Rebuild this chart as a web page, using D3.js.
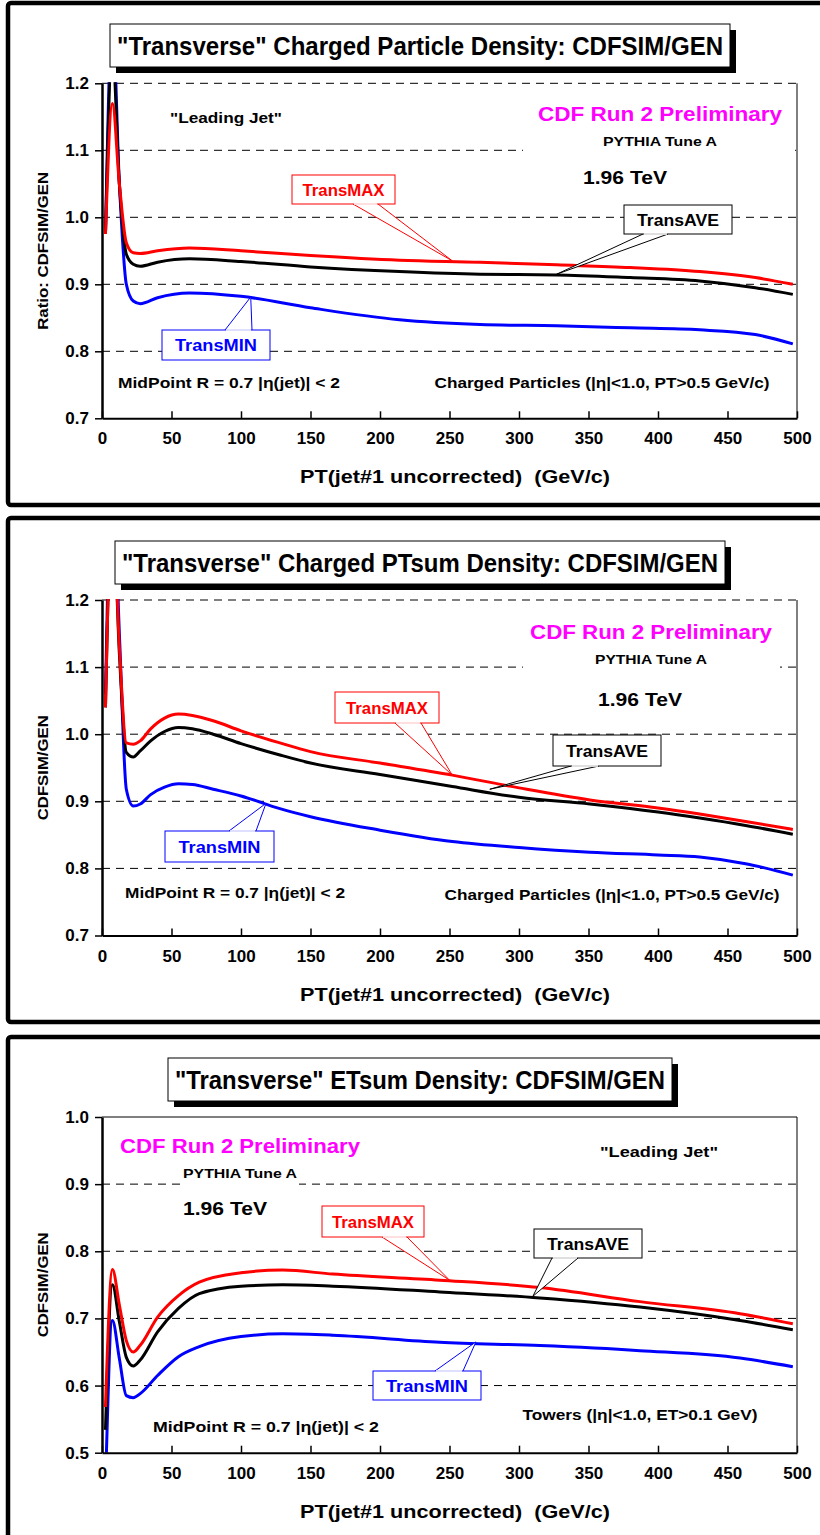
<!DOCTYPE html>
<html>
<head>
<meta charset="utf-8">
<script src="https://cdn.jsdelivr.net/npm/d3@7"></script>
<style>
  body { margin: 0; background: #fff; }
  svg { display: block; }
  text { font-family: "Liberation Sans", Arial, sans-serif; font-weight: bold; }
</style>
</head>
<body>
<div id="chart"></div>
<script>
// x tick labels shared by all three panels
const xTicks = [0, 50, 100, 150, 200, 250, 300, 350, 400, 450, 500];

// panel 1: charged particle density
const p1X   = [2.5, 7.5, 12.5, 17.5, 22.5, 27.5, 40, 63, 100, 150, 214, 272, 327, 380, 430, 470, 497];
const p1Max = [0.975, 1.17, 1.05, 0.962, 0.947, 0.946, 0.95, 0.954, 0.95, 0.943, 0.936, 0.933, 0.929, 0.925, 0.919, 0.91, 0.9];
const p1Ave = [0.975, 1.25, 1.05, 0.945, 0.93, 0.927, 0.933, 0.938, 0.934, 0.926, 0.919, 0.915, 0.914, 0.91, 0.905, 0.895, 0.885];
const p1Min = [0.975, 1.3, 1.05, 0.9, 0.875, 0.871, 0.88, 0.887, 0.882, 0.865, 0.847, 0.84, 0.838, 0.835, 0.832, 0.825, 0.811];
const p1YTicks = [0.7, 0.8, 0.9, 1.0, 1.1, 1.2];

// panel 2: charged PTsum density
const p2X   = [2.5, 7.5, 12.5, 17.5, 22.5, 27.5, 35, 45, 55, 65, 80, 100, 128, 150, 200, 252, 300, 351, 400, 430, 463, 497];
const p2Max = [1.04, 1.35, 1.13, 0.987, 0.985, 0.99, 1.008, 1.024, 1.03, 1.028, 1.02, 1.005, 0.987, 0.974, 0.957, 0.939, 0.92, 0.902, 0.89, 0.881, 0.87, 0.858];
const p2Ave = [1.04, 1.35, 1.12, 0.973, 0.966, 0.975, 0.99, 1.004, 1.01, 1.008, 1.0, 0.986, 0.969, 0.957, 0.94, 0.922, 0.906, 0.896, 0.884, 0.875, 0.864, 0.851];
const p2Min = [1.06, 1.4, 1.15, 0.918, 0.893, 0.896, 0.91, 0.921, 0.926, 0.925, 0.918, 0.908, 0.889, 0.877, 0.857, 0.84, 0.831, 0.824, 0.82, 0.817, 0.807, 0.79];
const p2YTicks = [0.7, 0.8, 0.9, 1.0, 1.1, 1.2];

// panel 3: ETsum density
const p3X   = [2.5, 7.5, 12.5, 17.5, 22.5, 27.5, 40, 55, 70, 100, 130, 166, 243, 315, 387, 459, 497];
const p3Max = [0.568, 0.773, 0.72, 0.667, 0.65, 0.66, 0.702, 0.734, 0.754, 0.768, 0.772, 0.766, 0.757, 0.746, 0.725, 0.707, 0.692];
const p3Ave = [0.534, 0.75, 0.695, 0.642, 0.629, 0.638, 0.68, 0.715, 0.737, 0.748, 0.75, 0.748, 0.7395, 0.7305, 0.717, 0.697, 0.683];
const p3Min = [0.45, 0.697, 0.64, 0.585, 0.582, 0.588, 0.615, 0.643, 0.658, 0.673, 0.677, 0.675, 0.6645, 0.6595, 0.652, 0.641, 0.628];
const p3YTicks = [0.5, 0.6, 0.7, 0.8, 0.9, 1.0];

const seriesNames = ["TransMAX", "TransAVE", "TransMIN"];
const seriesColors = ["#ff0000", "#000000", "#0000ff"];

const svg = d3.select("#chart").append("svg")
    .attr("width", 820)
    .attr("height", 1535);

const panels = [
  {
    frame: [8, 3, 830, 502], plotTop: 83.3, plotBottom: 418.3, topDashed: true,
    title: "\"Transverse\" Charged Particle Density: CDFSIM/GEN", titleBox: [110, 24, 620, 43],
    yLabel: "Ratio: CDFSIM/GEN", yLabelLen: 158, yTicks: p1YTicks,
    x: p1X, series: [p1Max, p1Ave, p1Min],
    whiteBox: [523, 140, 272, 20],
    callouts: [
      {box: [292, 175, 103, 29], base: [353, 378], tip: [252, 0.935]},
      {box: [624, 205, 108, 29], base: [643, 668], tip: [327, 0.915]},
      {box: [162, 330, 108, 30], base: [225, 252], tip: [107, 0.881]}
    ],
    texts: [
      {t: "\"Leading Jet\"", x: 226, y: 123, size: 15, w: 112, anchor: "middle"},
      {t: "CDF Run 2 Preliminary", x: 660, y: 121, size: 20, w: 244, anchor: "middle", color: "#ff00ff"},
      {t: "PYTHIA Tune A", x: 660, y: 146, size: 13, w: 114, anchor: "middle"},
      {t: "1.96 TeV", x: 625, y: 184, size: 18, w: 84, anchor: "middle"},
      {t: "MidPoint R = 0.7 |η(jet)| < 2", x: 229, y: 388, size: 15, w: 222, anchor: "middle"},
      {t: "Charged Particles (|η|<1.0, PT>0.5 GeV/c)", x: 602, y: 388, size: 15, w: 335, anchor: "middle"}
    ]
  },
  {
    frame: [8, 518, 830, 504], plotTop: 600, plotBottom: 935.5, topDashed: true,
    title: "\"Transverse\" Charged PTsum Density: CDFSIM/GEN", titleBox: [115, 541, 610, 43],
    yLabel: "CDFSIM/GEN", yLabelLen: 105, yTicks: p2YTicks,
    x: p2X, series: [p2Max, p2Ave, p2Min],
    whiteBox: [523, 657, 257, 20],
    callouts: [
      {box: [335, 692, 104, 31], base: [395, 421], tip: [252, 0.939]},
      {box: [553, 735, 108, 31], base: [571, 599], tip: [279, 0.918]},
      {box: [165, 831, 109, 31], base: [229, 256], tip: [118, 0.897]}
    ],
    texts: [
      {t: "CDF Run 2 Preliminary", x: 651, y: 639, size: 20, w: 242, anchor: "middle", color: "#ff00ff"},
      {t: "PYTHIA Tune A", x: 651, y: 664, size: 13, w: 112, anchor: "middle"},
      {t: "1.96 TeV", x: 640, y: 706, size: 18, w: 84, anchor: "middle"},
      {t: "MidPoint R = 0.7 |η(jet)| < 2", x: 235, y: 898, size: 15, w: 220, anchor: "middle"},
      {t: "Charged Particles (|η|<1.0, PT>0.5 GeV/c)", x: 612, y: 900, size: 15, w: 335, anchor: "middle"}
    ]
  },
  {
    frame: [8, 1037, 830, 520], plotTop: 1117, plotBottom: 1452.7, topDashed: false,
    title: "\"Transverse\" ETsum Density: CDFSIM/GEN", titleBox: [168, 1058, 504, 43],
    yLabel: "CDFSIM/GEN", yLabelLen: 105, yTicks: p3YTicks,
    x: p3X, series: [p3Max, p3Ave, p3Min],
    whiteBox: [181, 1178, 118, 12],
    callouts: [
      {box: [322, 1206, 102, 31], base: [382, 407], tip: [250, 0.757]},
      {box: [534, 1229, 108, 29], base: [552, 578], tip: [310, 0.733]},
      {box: [373, 1371, 108, 29], base: [435, 463], tip: [269, 0.665]}
    ],
    texts: [
      {t: "CDF Run 2 Preliminary", x: 240, y: 1153, size: 20, w: 240, anchor: "middle", color: "#ff00ff"},
      {t: "PYTHIA Tune A", x: 240, y: 1178, size: 13, w: 114, anchor: "middle"},
      {t: "1.96 TeV", x: 225, y: 1215, size: 18, w: 84, anchor: "middle"},
      {t: "\"Leading Jet\"", x: 659, y: 1157, size: 15, w: 118, anchor: "middle"},
      {t: "MidPoint R = 0.7 |η(jet)| < 2", x: 266, y: 1432, size: 15, w: 226, anchor: "middle"},
      {t: "Towers (|η|<1.0, ET>0.1 GeV)", x: 640, y: 1420, size: 15, w: 235, anchor: "middle"}
    ]
  }
];

const xLeft = 102, xRight = 797;

panels.forEach(function(p, i) {
  const g = svg.append("g");

  // outer frame
  g.append("rect")
    .attr("x", p.frame[0]).attr("y", p.frame[1])
    .attr("width", p.frame[2]).attr("height", p.frame[3])
    .attr("rx", 3)
    .attr("fill", "none").attr("stroke", "#000").attr("stroke-width", 4.5);

  const xScale = d3.scaleLinear().domain([0, 500]).range([xLeft, xRight]);
  const yScale = d3.scaleLinear()
    .domain([p.yTicks[0], p.yTicks[p.yTicks.length - 1]])
    .range([p.plotBottom, p.plotTop]);

  // grid lines
  g.selectAll(".grid")
    .data(p.yTicks.slice(1, p.topDashed ? p.yTicks.length : p.yTicks.length - 1))
    .enter()
    .append("line")
    .attr("x1", xLeft).attr("x2", xRight)
    .attr("y1", d => yScale(d)).attr("y2", d => yScale(d))
    .attr("stroke", "#000").attr("stroke-width", 1)
    .attr("stroke-dasharray", "8,6");

  // plot frame top (solid only in panel 3) and right side
  if (!p.topDashed) {
    g.append("line").attr("x1", xLeft).attr("x2", xRight)
      .attr("y1", p.plotTop).attr("y2", p.plotTop)
      .attr("stroke", "#000").attr("stroke-width", 1);
  }
  g.append("line").attr("x1", xRight).attr("x2", xRight)
    .attr("y1", p.plotTop).attr("y2", p.plotBottom)
    .attr("stroke", "#000").attr("stroke-width", 1);

  // white background behind the text block
  g.append("rect")
    .attr("x", p.whiteBox[0]).attr("y", p.whiteBox[1])
    .attr("width", p.whiteBox[2]).attr("height", p.whiteBox[3])
    .attr("fill", "#fff");

  // curves
  const clipId = "clip" + i;
  svg.append("clipPath").attr("id", clipId)
    .append("rect")
    .attr("x", xLeft).attr("y", p.plotTop - 1)
    .attr("width", xRight - xLeft).attr("height", p.plotBottom - p.plotTop + 1);

  const line = d3.line()
    .x(d => xScale(d[0]))
    .y(d => yScale(d[1]))
    .curve(d3.curveMonotoneX);

  p.series.slice().reverse().forEach(function(vals, k) {
    const idx = p.series.length - 1 - k;
    g.append("path")
      .datum(p.x.map((xv, j) => [xv, vals[j]]))
      .attr("clip-path", `url(#${clipId})`)
      .attr("d", line)
      .attr("fill", "none")
      .attr("stroke", seriesColors[idx])
      .attr("stroke-width", 3)
      .attr("stroke-linejoin", "round");
  });

  // axes
  const bottomAxis = d3.axisBottom(xScale).tickValues(xTicks).tickSizeInner(-7).tickSizeOuter(0).tickPadding(14);
  const leftAxis = d3.axisLeft(yScale).tickValues(p.yTicks).tickFormat(d3.format(".1f")).tickSizeInner(7).tickSizeOuter(0).tickPadding(6);

  const xAxis = g.append("g")
    .attr("transform", `translate(0, ${p.plotBottom})`)
    .call(bottomAxis);
  xAxis.select(".domain").attr("stroke-width", 2);
  xAxis.selectAll(".tick line").attr("stroke-width", 1.5);
  xAxis.selectAll("text").attr("font-size", "17px").attr("font-family", "Liberation Sans, Arial, sans-serif").attr("font-weight", "bold");

  const yAxis = g.append("g")
    .attr("transform", `translate(${xLeft}, 0)`)
    .call(leftAxis);
  yAxis.select(".domain").attr("stroke-width", 2.5);
  yAxis.selectAll(".tick line").attr("stroke-width", 1.5);
  yAxis.selectAll("text").attr("font-size", "17px").attr("font-family", "Liberation Sans, Arial, sans-serif").attr("font-weight", "bold");

  // axis titles
  g.append("text")
    .attr("x", 455).attr("y", p.plotBottom + 65)
    .attr("text-anchor", "middle").attr("font-size", "18px")
    .attr("textLength", 310).attr("lengthAdjust", "spacingAndGlyphs")
    .text("PT(jet#1 uncorrected)  (GeV/c)")
    .style("white-space", "pre");

  g.append("text")
    .attr("transform", "rotate(-90)")
    .attr("x", -(p.plotTop + p.plotBottom) / 2)
    .attr("y", 48)
    .attr("text-anchor", "middle").attr("font-size", "15px")
    .attr("textLength", p.yLabelLen).attr("lengthAdjust", "spacingAndGlyphs")
    .text(p.yLabel);

  // title with drop shadow
  const tb = p.titleBox;
  g.append("rect").attr("x", tb[0] + 6).attr("y", tb[1] + 6)
    .attr("width", tb[2]).attr("height", tb[3]).attr("fill", "#000");
  g.append("rect").attr("x", tb[0]).attr("y", tb[1])
    .attr("width", tb[2]).attr("height", tb[3])
    .attr("fill", "#fff").attr("stroke", "#000").attr("stroke-width", 1);
  g.append("text")
    .attr("x", tb[0] + tb[2] / 2).attr("y", tb[1] + tb[3] / 2 + 9)
    .attr("text-anchor", "middle").attr("font-size", "25px")
    .attr("textLength", tb[2] - 14).attr("lengthAdjust", "spacingAndGlyphs")
    .text(p.title);

  // free text
  p.texts.forEach(function(t) {
    g.append("text")
      .attr("x", t.x).attr("y", t.y)
      .attr("text-anchor", t.anchor)
      .attr("font-size", t.size + "px")
      .attr("textLength", t.w).attr("lengthAdjust", "spacingAndGlyphs")
      .attr("fill", t.color || "#000")
      .text(t.t);
  });

  // callouts
  p.callouts.forEach(function(c, k) {
    const col = seriesColors[k];
    const tx = xScale(c.tip[0]), ty = yScale(c.tip[1]);
    const bx = c.box, below = ty > bx[1] + bx[3];
    const by = below ? bx[1] + bx[3] : bx[1];
    g.append("path")
      .attr("d", `M${c.base[0]},${by} L${tx},${ty} L${c.base[1]},${by}`)
      .attr("fill", "#fff").attr("stroke", col).attr("stroke-width", 1);
    g.append("rect")
      .attr("x", bx[0]).attr("y", bx[1]).attr("width", bx[2]).attr("height", bx[3])
      .attr("fill", "#fff").attr("stroke", col).attr("stroke-width", 1);
    g.append("line")
      .attr("x1", c.base[0] + 1).attr("x2", c.base[1] - 1)
      .attr("y1", by).attr("y2", by)
      .attr("stroke", "#fff").attr("stroke-width", 1.5);
    g.append("text")
      .attr("x", bx[0] + bx[2] / 2).attr("y", bx[1] + bx[3] / 2 + 6)
      .attr("text-anchor", "middle").attr("font-size", "17px")
      .attr("textLength", 82).attr("lengthAdjust", "spacingAndGlyphs")
      .attr("fill", col)
      .text(seriesNames[k]);
  });
});
</script>
</body>
</html>
